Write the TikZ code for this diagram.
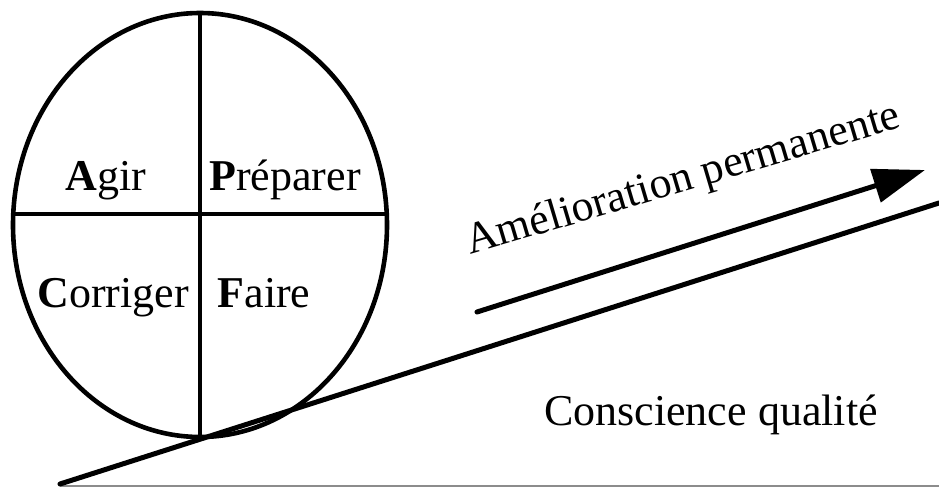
\documentclass[tikz,border=0pt]{standalone}
\usepackage{fontspec}
\setmainfont{Liberation Serif}
\usetikzlibrary{arrows.meta}
\tikzset{
rim/.style={line width=2.3pt},
divider/.style={line width=1.7pt},
quarter/.style={anchor=base, inner sep=0pt, font=\fontsize{22}{26}\selectfont},
slope/.style={line width=2.5pt, line cap=round},
arrow/.style={line width=2.5pt, line cap=round, -{Triangle[length=26pt,width=17pt]}},
ground/.style={line width=0.6pt, draw=black!45}}

\begin{document}
\begin{tikzpicture}[x=0.5pt,y=-0.5pt]
\useasboundingbox (0,0) rectangle (939,487);
% wheel
\coordinate (hub) at (200,225);
\draw [rim] (hub) ellipse [x radius=93.5pt, y radius=106pt];
\begin{scope}
\clip (hub) ellipse [x radius=93.5pt, y radius=106pt];
\draw [divider] (0,214) -- (400,214);
\draw [divider] (200,0) -- (200,450);
\end{scope}
\node (act) [quarter] at (106,190) {\textbf{A}gir};
\node (plan) [quarter] at (285,190) {\textbf{P}réparer};
\node (check) [quarter] at (113,307) {\textbf{C}orriger};
\node (do) [quarter] at (264,307) {\textbf{F}aire};
% slope and ground
\coordinate (foot) at (60,484);
\coordinate (top) at (939,203);
\coordinate (g1) at (60,486);
\coordinate (g2) at (939,486);
\draw [ground] (g1) -- (g2);
\draw [slope] (foot) -- (top);
% arrow
\coordinate (tail) at (477,312);
\coordinate (head) at (925,170);
\draw [arrow] (tail) -- (head);
\node (gain) [quarter, anchor=base west, rotate=16.5] at (470,255) {Amélioration permanente};
\node (aware) [quarter] at (711,425) {Conscience qualité};
\end{tikzpicture}
\end{document}
